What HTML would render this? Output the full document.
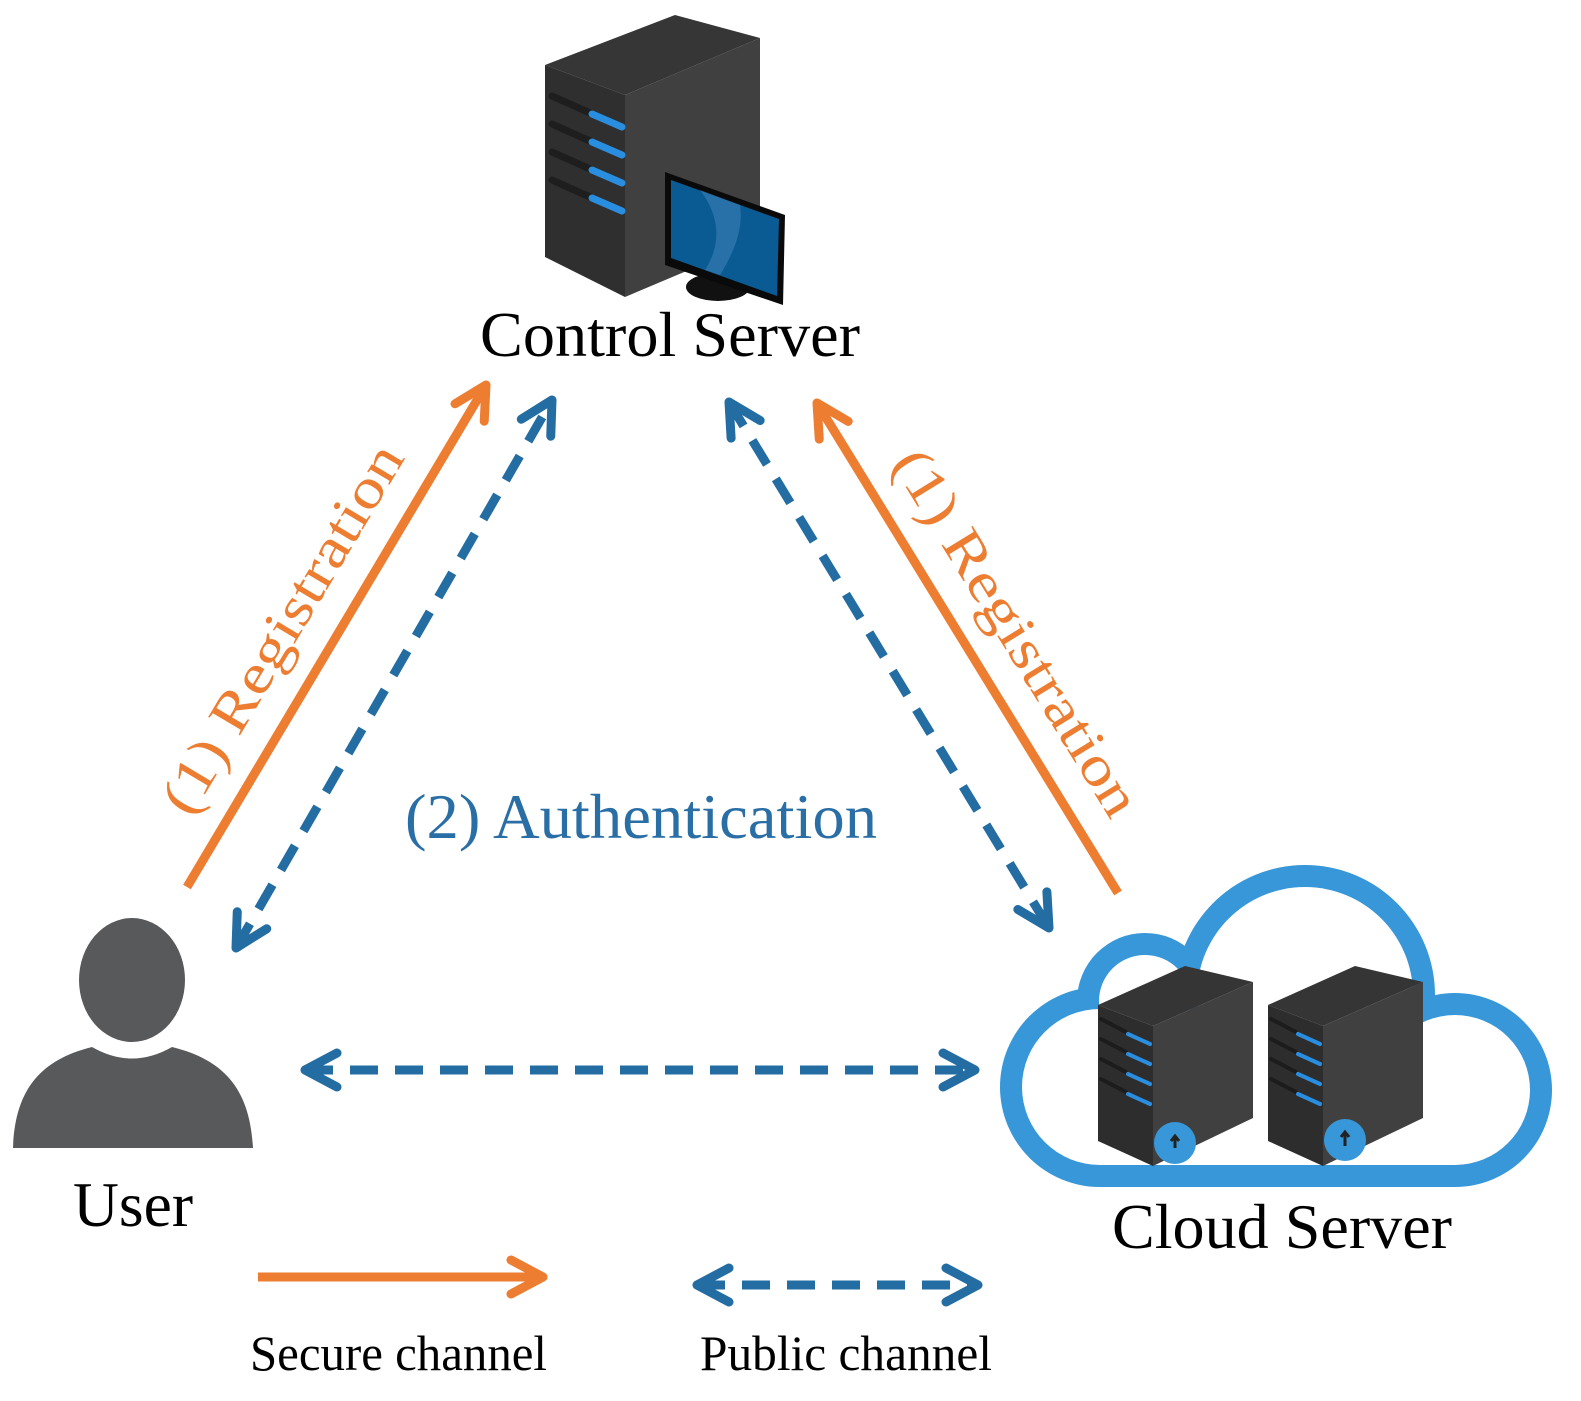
<!DOCTYPE html>
<html><head><meta charset="utf-8"><style>html,body{margin:0;padding:0;background:#fff}svg{display:block}</style></head><body>
<svg width="1581" height="1401" viewBox="0 0 1581 1401" xmlns="http://www.w3.org/2000/svg" font-family="'Liberation Serif', serif">
<defs>
<marker id="mo" viewBox="0 0 44 44" refX="38" refY="22" markerWidth="44" markerHeight="44" markerUnits="userSpaceOnUse" orient="auto-start-reverse"><path d="M6,5 L38,22 L6,39" fill="none" stroke="#ed7d31" stroke-width="9" stroke-linecap="round" stroke-linejoin="round"/></marker>
<marker id="mb" viewBox="0 0 44 44" refX="38" refY="22" markerWidth="44" markerHeight="44" markerUnits="userSpaceOnUse" orient="auto-start-reverse"><path d="M6,5 L38,22 L6,39" fill="none" stroke="#236da3" stroke-width="9" stroke-linecap="round" stroke-linejoin="round"/></marker>
<g id="tower">
<polygon points="0,39 87,0 155,16 55,60" fill="#353535"/>
<polygon points="0,39 55,60 55,200 0,175" fill="#2d2d2d"/>
<polygon points="55,60 155,16 155,152 55,200" fill="#404040"/>
<g stroke-width="4" stroke-linecap="round">
<line x1="3" y1="53" x2="28" y2="66" stroke="#1c1c1c"/><line x1="30" y1="68" x2="52" y2="78" stroke="#2a8ee0"/>
<line x1="3" y1="73" x2="28" y2="86" stroke="#1c1c1c"/><line x1="30" y1="88" x2="52" y2="98" stroke="#2a8ee0"/>
<line x1="3" y1="93" x2="28" y2="106" stroke="#1c1c1c"/><line x1="30" y1="108" x2="52" y2="118" stroke="#2a8ee0"/>
<line x1="3" y1="113" x2="28" y2="126" stroke="#1c1c1c"/><line x1="30" y1="128" x2="52" y2="138" stroke="#2a8ee0"/>
</g>
</g>
</defs>
<!-- Control server -->
<polygon points="545,65 675,15 760,38 625,95" fill="#363636"/>
<polygon points="545,65 625,95 625,297 545,257" fill="#2f2f2f"/>
<polygon points="625,95 760,38 760,240 625,297" fill="#404040"/>
<g stroke-width="7" stroke-linecap="round">
<line x1="552" y1="96" x2="590" y2="113" stroke="#1e1e1e"/><line x1="592" y1="114" x2="622" y2="127" stroke="#2a8ee0"/>
<line x1="552" y1="124" x2="590" y2="141" stroke="#1e1e1e"/><line x1="592" y1="142" x2="622" y2="155" stroke="#2a8ee0"/>
<line x1="552" y1="152" x2="590" y2="169" stroke="#1e1e1e"/><line x1="592" y1="170" x2="622" y2="183" stroke="#2a8ee0"/>
<line x1="552" y1="180" x2="590" y2="197" stroke="#1e1e1e"/><line x1="592" y1="198" x2="622" y2="211" stroke="#2a8ee0"/>
</g>
<ellipse cx="718" cy="287" rx="32" ry="14" fill="#111"/>
<polygon points="665,172 785,215 783,305 665,265" fill="#0a0a0a"/>
<polygon points="671,180 779,219 777,296 671,258" fill="#0a5a94"/>
<path d="M700,190 Q730,230 705,270 L720,275 Q745,235 740,205Z" fill="#3a7fb5" opacity="0.6"/>
<text x="480" y="356" font-size="64" textLength="380" lengthAdjust="spacingAndGlyphs" fill="#000">Control Server</text>

<!-- connectors -->
<line x1="187" y1="887" x2="486" y2="385" stroke="#ed7d31" stroke-width="9" marker-end="url(#mo)"/>
<line x1="236" y1="948" x2="552" y2="400" stroke="#236da3" stroke-width="9" stroke-dasharray="28,17" marker-start="url(#mb)" marker-end="url(#mb)"/>
<line x1="729" y1="402" x2="1049" y2="928" stroke="#236da3" stroke-width="9" stroke-dasharray="28,17" marker-start="url(#mb)" marker-end="url(#mb)"/>
<line x1="1118" y1="893" x2="817" y2="403" stroke="#ed7d31" stroke-width="9" marker-end="url(#mo)"/>
<line x1="305" y1="1070" x2="975" y2="1070" stroke="#236da3" stroke-width="9" stroke-dasharray="28,17" marker-start="url(#mb)" marker-end="url(#mb)"/>

<text transform="translate(298,638) rotate(-59.2)" font-size="56" text-anchor="middle" textLength="420" lengthAdjust="spacingAndGlyphs" fill="#ed7d31">(1) Registration</text>
<text transform="translate(1001,642) rotate(58.4)" font-size="56" text-anchor="middle" textLength="420" lengthAdjust="spacingAndGlyphs" fill="#ed7d31">(1) Registration</text>
<text x="405" y="838" font-size="64" textLength="472" lengthAdjust="spacingAndGlyphs" fill="#2a6ea6">(2) Authentication</text>

<!-- User -->
<ellipse cx="132" cy="980" rx="53" ry="62" fill="#58595b"/>
<path d="M13,1148 C15,1090 40,1060 92,1047 Q132,1070 172,1047 C225,1060 250,1090 253,1148 Z" fill="#58595b"/>
<text x="73" y="1226" font-size="64" textLength="120" lengthAdjust="spacingAndGlyphs" fill="#000">User</text>

<!-- Cloud -->
<g fill="#3797d8">
<circle cx="1100" cy="1087" r="100"/><circle cx="1145" cy="1001" r="68"/><circle cx="1305" cy="995" r="130"/><circle cx="1455" cy="1090" r="97"/><rect x="1100" y="1060" width="355" height="127"/>
</g>
<g fill="#fff">
<circle cx="1100" cy="1087" r="78"/><circle cx="1145" cy="1001" r="46"/><circle cx="1305" cy="995" r="108"/><circle cx="1455" cy="1090" r="75"/><rect x="1100" y="1060" width="355" height="105"/>
</g>
<use href="#tower" x="1098" y="966"/>
<use href="#tower" x="1268" y="966"/>
<circle cx="1175" cy="1143" r="21" fill="#3797d8"/><circle cx="1345" cy="1140" r="21" fill="#3797d8"/>
<path d="M1175,1148 v-10 M1171,1141 l4,-5 4,5" stroke="#222" stroke-width="3" fill="none"/>
<path d="M1345,1146 v-12 M1341,1137 l4,-5 4,5" stroke="#222" stroke-width="3" fill="none"/>
<text x="1112" y="1248" font-size="64" textLength="340" lengthAdjust="spacingAndGlyphs" fill="#000">Cloud Server</text>

<!-- legend -->
<line x1="258" y1="1277" x2="543" y2="1277" stroke="#ed7d31" stroke-width="9" marker-end="url(#mo)"/>
<line x1="697" y1="1285" x2="978" y2="1285" stroke="#236da3" stroke-width="9" stroke-dasharray="28,17" marker-start="url(#mb)" marker-end="url(#mb)"/>
<text x="250" y="1370" font-size="50" textLength="297" lengthAdjust="spacingAndGlyphs" fill="#000">Secure channel</text>
<text x="700" y="1370" font-size="50" textLength="292" lengthAdjust="spacingAndGlyphs" fill="#000">Public channel</text>
</svg>
</body></html>
